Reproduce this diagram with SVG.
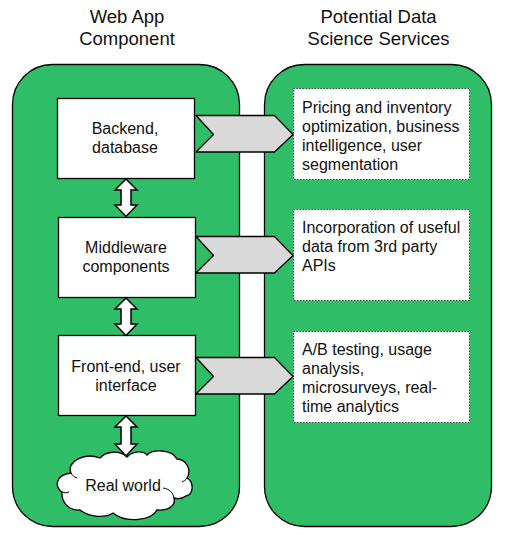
<svg xmlns="http://www.w3.org/2000/svg" width="507" height="536" viewBox="0 0 507 536">
<style>
text{font-family:"Liberation Sans",Arial,sans-serif;fill:#111;font-size:16px}
.h{font-size:18.500px;text-anchor:middle}
.c{text-anchor:middle}
.panel{fill:#2fbd68;stroke:#000;stroke-width:1.3}
.box{fill:#fff;stroke:#000;stroke-width:1.3}
.note{fill:#fff;stroke:#2a4a38;stroke-width:1;stroke-dasharray:1.500 1.500}
.arr{fill:#d9d9d9;stroke:#000;stroke-width:1.300;stroke-linejoin:round}
.dbl{fill:#fff;stroke:#000;stroke-width:1.500;stroke-linejoin:miter}
.curl{fill:none;stroke:#000;stroke-width:1}
</style>
<rect width="507" height="536" fill="#fff"/>
<g id="panel-left"><rect class="panel" x="12.500" y="64.500" width="227" height="462" rx="40" ry="40"/></g>
<g id="panel-right"><rect class="panel" x="264.500" y="64.500" width="227" height="462" rx="40" ry="40"/></g>
<g id="title-left"><text class="h" x="127" y="23">Web App</text><text class="h" x="127" y="45">Component</text></g>
<g id="title-right"><text class="h" x="378.500" y="23">Potential Data</text><text class="h" x="378.500" y="45">Science Services</text></g>
<g id="backend"><rect class="box" x="57.500" y="98.500" width="137" height="80"/><text class="c" x="125" y="134">Backend,</text><text class="c" x="125" y="153">database</text></g>
<g id="middleware"><rect class="box" x="58.500" y="217.500" width="137" height="80"/><text class="c" x="126" y="253">Middleware</text><text class="c" x="126" y="272">components</text></g>
<g id="frontend"><rect class="box" x="58.500" y="335.500" width="137" height="80"/><text class="c" x="126" y="372">Front-end, user</text><text class="c" x="126" y="391">interface</text></g>
<g id="real-world">
<path class="box" d="M127 457C134 450 144 451 147 455C152 449 172 449 177 459C186 459 192 470 187 478C194 482 194 494 186 496C182 499 178 499 174 498C176 506 168 511 157 510C152 520 126 524 113 513C106 518 90 518 80 510C72 511 61 505 62 492C55 488 54 475 71 473C66 462 84 452 100 458C106 451 120 450 127 457Z"/>
<path class="curl" d="M174 498C173 493 170 489 163 488M187 478C186 480 184 481 182 482M62 492C64 493 66 493 69 492M71 473C72 475 74 477 77 478"/>
<text class="c" x="123" y="491">Real world</text></g>
<g id="note-1"><rect class="note" x="293.500" y="88.500" width="176" height="91"/><text x="302" y="113">Pricing and inventory</text><text x="302" y="132">optimization, business</text><text x="302" y="151">intelligence, user</text><text x="302" y="170">segmentation</text></g>
<g id="note-2"><rect class="note" x="293.500" y="209.500" width="176" height="91"/><text x="302" y="233">Incorporation of useful</text><text x="302" y="252">data from 3rd party</text><text x="302" y="271">APIs</text></g>
<g id="note-3"><rect class="note" x="293.500" y="331.500" width="176" height="91"/><text x="302" y="355">A/B testing, usage</text><text x="302" y="374">analysis,</text><text x="302" y="393">microsurveys, real-</text><text x="302" y="412">time analytics</text></g>
<g id="connectors">
<path class="arr" d="M196 115.500H274.500L293 134.500L274.500 152H196L213.500 134.500Z"/>
<path class="arr" d="M196 236.500H274.500L293 255.500L274.500 273H196L213.500 255.500Z"/>
<path class="arr" d="M196 357.500H274.500L293 376.500L274.500 394H196L213.500 376.500Z"/>
<path class="dbl" d="M126 179L137 190H131V205H137L126 216.500L115 205H121V190H115Z"/>
<path class="dbl" d="M126 298L137 309H131V324H137L126 335.500L115 324H121V309H115Z"/>
<path class="dbl" d="M126 416L137 427H131V444H137L126 456L115 444H121V427H115Z"/>
</g>
</svg>
